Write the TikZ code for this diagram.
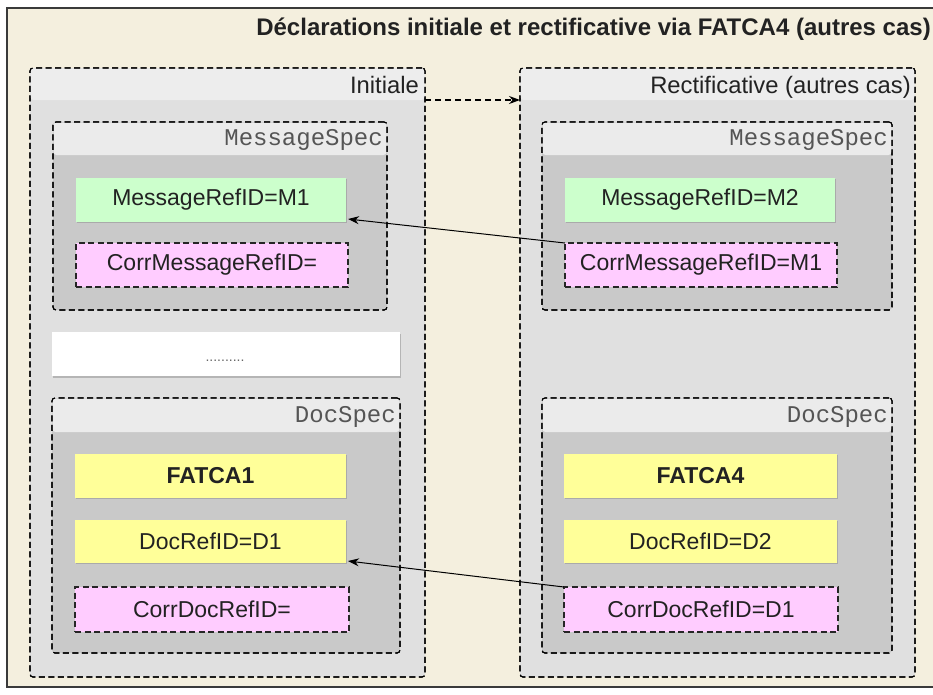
\documentclass[tikz,border=0pt]{standalone}
\usepackage{fontspec}
\setmainfont{Liberation Sans}
\newfontfamily\monof{Liberation Mono}
\usetikzlibrary{arrows.meta,shadows,calc}
\definecolor{cream}{HTML}{F4EFDE}
\definecolor{framecol}{HTML}{3A3A3A}
\definecolor{contbody}{HTML}{E0E0E0}
\definecolor{conthdr}{HTML}{EDEDED}
\definecolor{specbody}{HTML}{C9C9C9}
\definecolor{spechdr}{HTML}{EBEBEB}
\definecolor{mint}{HTML}{CCFFCC}
\definecolor{pinkc}{HTML}{FFCCFF}
\definecolor{yell}{HTML}{FFFF99}
\definecolor{txtc}{HTML}{222222}
\definecolor{monoc}{HTML}{555555}
\begin{document}
\begin{tikzpicture}[x=1pt,y=-1pt,
  dsh/.style={dash pattern=on 6pt off 3.5pt},
  cont/.style={draw=black, dsh, rounded corners=3pt, fill=#1, line width=1.1pt, inner sep=0pt, outer sep=0pt, anchor=north west},
  solid box/.style={draw=none, inner sep=0pt, outer sep=0pt, anchor=north west, text=txtc,
    font=\fontsize{23}{26}\selectfont,
    drop shadow={shadow xshift=1.2pt, shadow yshift=-1.2pt, fill=black!45, opacity=.5}},
  greenbox/.style={solid box, fill=mint},
  yellbox/.style={solid box, fill=yell},
  pinkbox/.style={draw=black!85, dsh, line width=1.1pt, fill=pinkc, inner sep=0pt, outer sep=0pt, anchor=north west, text=txtc, font=\fontsize{23}{26}\selectfont},
  clbl/.style={anchor=base east, inner sep=0pt, text=txtc, font=\fontsize{23.8}{27}\selectfont},
  slbl/.style={anchor=base east, inner sep=0pt, text=monoc, font=\monof\fontsize{24}{27}\selectfont},
  link/.style={draw=black, line width=1pt, -{Stealth[length=11pt,width=8pt]}}
]
\useasboundingbox (0,0) rectangle (933,694);
\fill[white] (0,0) rectangle (933,694);
% outer frame
\node[draw=framecol, fill=cream, line width=1.2pt, anchor=north west, inner sep=0pt, outer sep=0pt,
  minimum width=940pt, minimum height=679pt] (frame) at (7,8) {};
\node[anchor=base east, inner sep=0pt, text=txtc, font=\bfseries\fontsize{24}{28}\selectfont] (title) at (931,35)
  {Déclarations initiale et rectificative via FATCA4 (autres cas)};

% ---------- left container: Initiale ----------
\node[cont=contbody, minimum width=395pt, minimum height=609pt] (init) at (30,68) {};
\fill[conthdr, rounded corners=3pt] (30.5,100) -- (30.5,68.5) -- (424.5,68.5) -- (424.5,100) -- cycle;
\node[cont=none, minimum width=395pt, minimum height=609pt] (initb) at (30,68) {};
\node[clbl] (initlbl) at (419,93) {Initiale};

% ---------- right container: Rectificative ----------
\node[cont=contbody, minimum width=395pt, minimum height=609pt] (rect) at (520,68) {};
\fill[conthdr, rounded corners=3pt] (520.5,100) -- (520.5,68.5) -- (914.5,68.5) -- (914.5,100) -- cycle;
\node[cont=none, minimum width=395pt, minimum height=609pt] (rectb) at (520,68) {};
\node[clbl] (rectlbl) at (911,93) {Rectificative (autres cas)};

% ---------- MessageSpec left ----------
\node[cont=specbody, minimum width=334pt, minimum height=188pt] (msl) at (53,122) {};
\fill[spechdr, rounded corners=3pt] (53.5,155) -- (53.5,122.5) -- (386.5,122.5) -- (386.5,155) -- cycle;
\node[cont=none, minimum width=334pt, minimum height=188pt] (mslb) at (53,122) {};
\node[slbl] (msllbl) at (383,145) {MessageSpec};

% ---------- MessageSpec right ----------
\node[cont=specbody, minimum width=350pt, minimum height=188pt] (msr) at (542,122) {};
\fill[spechdr, rounded corners=3pt] (542.5,155) -- (542.5,122.5) -- (891.5,122.5) -- (891.5,155) -- cycle;
\node[cont=none, minimum width=350pt, minimum height=188pt] (msrb) at (542,122) {};
\node[slbl] (msrlbl) at (888,145) {MessageSpec};

% ---------- dots box ----------
\node[fill=white, anchor=north west, inner sep=0pt, outer sep=0pt, minimum width=348pt, minimum height=44pt,
  drop shadow={shadow xshift=1pt, shadow yshift=-1.5pt, fill=black!45, opacity=.5}] (dots) at (52,332) {};
\node[anchor=base, inner sep=0pt, text=black!60, font=\fontsize{14}{16}\selectfont] (dotstxt) at (225,361) {..........};

% ---------- DocSpec left ----------
\node[cont=specbody, minimum width=348pt, minimum height=255pt] (dsl) at (52,398) {};
\fill[spechdr, rounded corners=3pt] (52.5,432) -- (52.5,398.5) -- (399.5,398.5) -- (399.5,432) -- cycle;
\node[cont=none, minimum width=348pt, minimum height=255pt] (dslb) at (52,398) {};
\node[slbl] (dsllbl) at (396,422) {DocSpec};

% ---------- DocSpec right ----------
\node[cont=specbody, minimum width=350pt, minimum height=255pt] (dsr) at (542,398) {};
\fill[spechdr, rounded corners=3pt] (542.5,432) -- (542.5,398.5) -- (891.5,398.5) -- (891.5,432) -- cycle;
\node[cont=none, minimum width=350pt, minimum height=255pt] (dsrb) at (542,398) {};
\node[slbl] (dsrlbl) at (888,422) {DocSpec};

% ---------- inner boxes left ----------
\node[greenbox, minimum width=270pt, minimum height=44pt] (gml) at (76,178) {MessageRefID=M1};
\node[pinkbox, minimum width=272pt, minimum height=44pt] (cml) at (76,243) {CorrMessageRefID=};
\node[yellbox, minimum width=271pt, minimum height=44pt] (fl) at (75,454) {\bfseries FATCA1};
\node[yellbox, minimum width=271pt, minimum height=43pt] (drl) at (75,520) {DocRefID=D1};
\node[pinkbox, minimum width=274pt, minimum height=45pt] (cdl) at (75,587) {CorrDocRefID=};

% ---------- inner boxes right ----------
\node[greenbox, minimum width=270pt, minimum height=44pt] (gmr) at (565,178) {MessageRefID=M2};
\node[pinkbox, minimum width=272pt, minimum height=44pt] (cmr) at (565,243) {CorrMessageRefID=M1};
\node[yellbox, minimum width=273pt, minimum height=44pt] (fr) at (564,454) {\bfseries FATCA4};
\node[yellbox, minimum width=273pt, minimum height=43pt] (drr) at (564,520) {DocRefID=D2};
\node[pinkbox, minimum width=274pt, minimum height=45pt] (cdr) at (564,587) {CorrDocRefID=D1};

% ---------- connectors ----------
\draw[link, dash pattern=on 6pt off 4pt, line width=1.2pt] ([yshift=-32pt]init.north east) -- ([yshift=-32pt]rect.north west);
\draw[link] (cmr.north west) -- ([xshift=2pt,yshift=3pt]gml.south east);
\draw[link] (cdr.north west) -- ([xshift=2pt,yshift=2pt]drl.south east);
\end{tikzpicture}
\end{document}
